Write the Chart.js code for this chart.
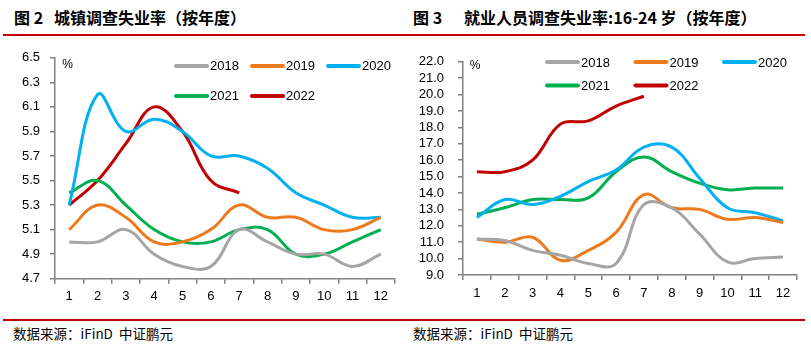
<!DOCTYPE html>
<html>
<head>
<meta charset="utf-8">
<script src="https://cdn.jsdelivr.net/npm/chart.js@4/dist/chart.umd.min.js"></script>
<style>
  html, body { margin: 0; padding: 0; background: #fff; }
  #page { position: relative; width: 811px; height: 353px; overflow: hidden; }
  .rule { position: absolute; left: 3px; width: 802px; height: 2px; background: #C00000; }
  .title { position: absolute; top: 7px; font-family: "Noto Sans CJK SC", sans-serif; font-weight: 700; font-size: 16px; color: #000; white-space: nowrap; line-height: 20px; }
  .note { position: absolute; top: 324px; font-family: "Noto Sans CJK SC", sans-serif; font-size: 13.5px; color: #000; white-space: nowrap; line-height: 18px; }
  .box { position: absolute; top: 40px; height: 275px; }
</style>
</head>
<body>
<div id="page">
  <div class="title" style="left:14px;">图 2<span style="margin-left:11px;">城镇调查失业率（按年度）</span></div>
  <div class="title" style="left:413px;">图 3<span style="margin-left:22px;">就业人员调查失业率:16-24 岁（按年度）</span></div>
  <div class="rule" style="top:34px;"></div>

  <div class="box" style="left:0; width:400px;"><canvas id="urbanChart"></canvas></div>
  <div class="box" style="left:400px; width:411px;"><canvas id="youthChart"></canvas></div>

  <div class="rule" style="top:319px;"></div>
  <div class="note" style="left:13px;">数据来源：iFinD&nbsp;&nbsp;中证鹏元</div>
  <div class="note" style="left:413px;">数据来源：iFinD&nbsp;&nbsp;中证鹏元</div>
</div>

<script>
// 月份 & 年份
const months = ['1', '2', '3', '4', '5', '6', '7', '8', '9', '10', '11', '12'];
const years = ['2018', '2019', '2020', '2021', '2022'];

// 图2 城镇调查失业率 (%)
const urban2018 = [5.0, 5.0, 5.1, 4.9, 4.8, 4.8, 5.1, 5.0, 4.9, 4.9, 4.8, 4.9];
const urban2019 = [5.1, 5.3, 5.2, 5.0, 5.0, 5.1, 5.3, 5.2, 5.2, 5.1, 5.1, 5.2];
const urban2020 = [5.3, 6.2, 5.9, 6.0, 5.9, 5.7, 5.7, 5.6, 5.4, 5.3, 5.2, 5.2];
const urban2021 = [5.4, 5.5, 5.3, 5.1, 5.0, 5.0, 5.1, 5.1, 4.9, 4.9, 5.0, 5.1];
const urban2022 = [5.3, 5.5, 5.8, 6.1, 5.9, 5.5, 5.4];

// 图3 16-24岁调查失业率 (%)
const youth2018 = [11.2, 11.1, 10.5, 10.2, 9.7, 9.7, 13.3, 13.1, 11.5, 9.8, 10.0, 10.1];
const youth2019 = [11.2, 11.0, 11.3, 9.9, 10.5, 11.6, 13.9, 13.1, 13.0, 12.4, 12.5, 12.2];
const youth2020 = [12.5, 13.6, 13.3, 13.8, 14.7, 15.4, 16.8, 16.8, 14.9, 13.1, 12.8, 12.3];
const youth2021 = [12.7, 13.1, 13.6, 13.6, 13.7, 15.3, 16.2, 15.3, 14.6, 14.2, 14.3, 14.3];
const youth2022 = [15.3, 15.3, 16.0, 18.2, 18.4, 19.3, 19.9];

// 颜色 (Excel 风格)
const seriesColors = ['#A5A5A5', '#EE7A1E', '#00B0F0', '#00B050', '#C00000'];
const axisColor = '#808080';
const tickFont = { family: '"Liberation Sans", Arial, sans-serif', size: 13 };

// 图例画在绘图区内部 (3列 x 2行) + 左上角 "%"
const gridLegend = {
    id: 'gridLegend',
    afterDraw(chart, args, opts) {
        const { ctx, chartArea } = chart;
        ctx.save();
        chart.data.datasets.forEach((ds, i) => {
            const col = i % 3;
            const row = Math.floor(i / 3);
            const x = chartArea.left + opts.x + col * opts.colW;
            const y = chartArea.top + opts.y + row * opts.rowH;
            ctx.strokeStyle = ds.borderColor;
            ctx.lineWidth = 4;
            ctx.lineCap = 'round';
            ctx.beginPath();
            ctx.moveTo(x, y);
            ctx.lineTo(x + 31, y);
            ctx.stroke();
            ctx.fillStyle = '#000';
            ctx.font = '13px "Liberation Sans", Arial, sans-serif';
            ctx.textBaseline = 'middle';
            ctx.textAlign = 'left';
            ctx.fillText(ds.label, x + 34, y + 1);
        });
        // 单位
        ctx.fillStyle = '#000';
        ctx.font = '12px "Liberation Sans", Arial, sans-serif';
        ctx.textAlign = 'center';
        ctx.textBaseline = 'middle';
        ctx.fillText('%', chartArea.left + opts.pctX, chartArea.top + opts.pctY);
        ctx.restore();
    }
};

const makeDatasets = (seriesList) => seriesList.map((values, i) => ({
    label: years[i],
    data: values,
    borderColor: seriesColors[i],
    backgroundColor: seriesColors[i],
    borderWidth: 3,
    pointRadius: 0,
    tension: 0.4,
    fill: false
}));

const buildChart = (canvasId, seriesList, cfg) => {
    const canvas = document.getElementById(canvasId);
    if (!canvas) return;
    return new Chart(canvas.getContext('2d'), {
        type: 'line',
        data: { labels: months, datasets: makeDatasets(seriesList) },
        plugins: [gridLegend],
        options: {
            responsive: true,
            maintainAspectRatio: false,
            animation: false,
            layout: { padding: cfg.padding },
            plugins: {
                legend: { display: false },
                tooltip: { enabled: false },
                gridLegend: cfg.legend
            },
            scales: {
                x: {
                    type: 'category',
                    offset: true,
                    grid: { offset: true, drawOnChartArea: false, tickLength: 5, color: axisColor, lineWidth: 1.5 },
                    border: { color: axisColor, width: 1.5 },
                    ticks: { color: '#000', font: tickFont, padding: cfg.xPad, autoSkip: false, maxRotation: 0 },
                    afterFit: (s) => { s.height = cfg.xHeight; }
                },
                y: {
                    min: cfg.min,
                    max: cfg.max,
                    grid: { drawOnChartArea: false, tickLength: 5, color: axisColor, lineWidth: 1.5 },
                    border: { color: axisColor, width: 1.5 },
                    ticks: { stepSize: cfg.step, autoSkip: false, color: '#000', font: tickFont, padding: cfg.yPad, callback: (v) => Number(v).toFixed(1) },
                    afterFit: (s) => { s.width = cfg.yWidth; }
                }
            }
        }
    });
};

buildChart('urbanChart', [urban2018, urban2019, urban2020, urban2021, urban2022], {
    min: 4.7, max: 6.5, step: 0.2,
    padding: { left: 15, right: 5, top: 9.6, bottom: 0 },
    yWidth: 40, xHeight: 36.3, xPad: 5, yPad: 10,
    legend: { x: 121, y: 8.1, colW: 76, rowH: 30, pctX: 12.5, pctY: 6.5 }
});

buildChart('youthChart', [youth2018, youth2019, youth2020, youth2021, youth2022], {
    min: 9, max: 22, step: 1,
    padding: { left: 18, right: 14, top: 13.2, bottom: 0 },
    yWidth: 45, xHeight: 40, xPad: 6, yPad: 14,
    legend: { x: 84, y: 0.3, colW: 88.5, rowH: 23.5, pctX: 12, pctY: 3.5 }
});
</script>
</body>
</html>
